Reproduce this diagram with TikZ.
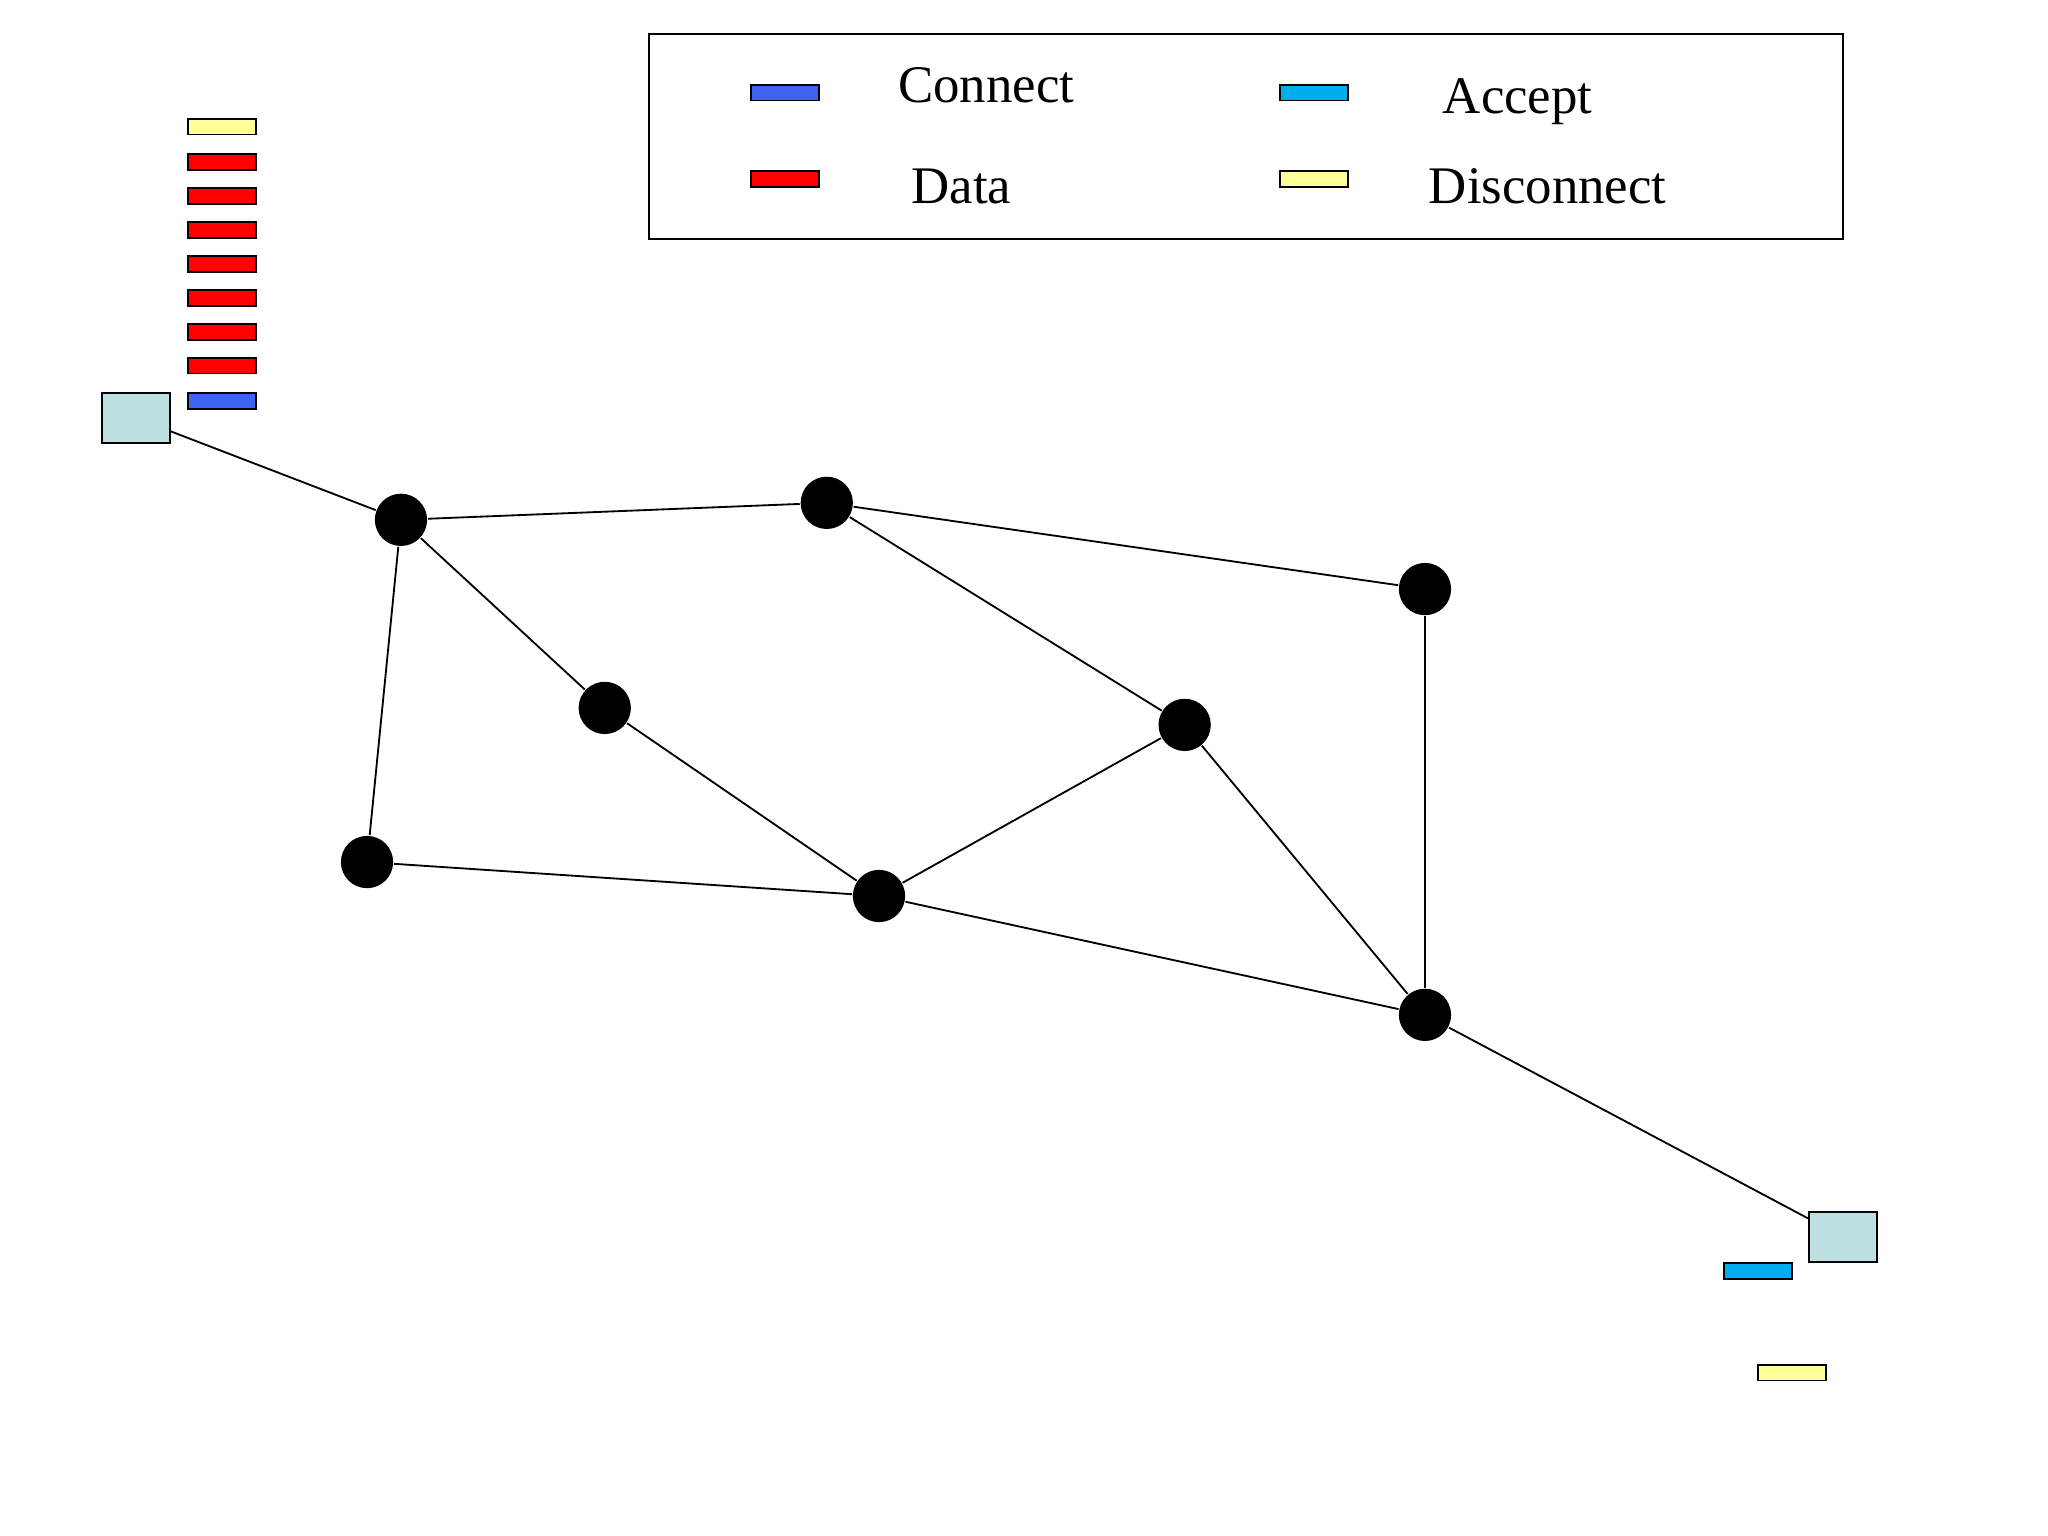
\documentclass[tikz,border=0pt]{standalone}
\usepackage{fontspec}
\setmainfont{Liberation Serif}
\begin{document}
\begin{tikzpicture}[x=0.01cm,y=-0.01cm,
  dot/.style={circle,fill=black,inner sep=0pt,minimum size=0.4cm},
  host/.style={draw=black,fill=hostc,inner sep=0pt,minimum width=0.52cm,minimum height=0.38cm},
  pkt/.style={draw=black,inner sep=0pt,minimum width=0.52cm,minimum height=0.12cm},
  lbl/.style={font=\fontsize{11.5}{13}\selectfont},
  edge/.style={draw=black,line width=0.4pt}]
\definecolor{hostc}{HTML}{BDE0E0}
\definecolor{pblue}{HTML}{3D63F0}
\definecolor{pyel}{HTML}{FFFF99}
\useasboundingbox (0,0) rectangle (1568,1176);
\node[dot] (A) at (307,398) {};
\node[dot] (B) at (633,385) {};
\node[dot] (C) at (1091,451) {};
\node[dot] (D) at (463,542) {};
\node[dot] (E) at (907,555) {};
\node[dot] (F) at (281,660) {};
\node[dot] (G) at (673,686) {};
\node[dot] (H) at (1091,777) {};
\node[host] (S1) at (104,320) {};
\node[host] (S2) at (1411,947) {};
\draw[edge] (S1) -- (A);
\draw[edge] (A) -- (B);
\draw[edge] (B) -- (C);
\draw[edge] (A) -- (D);
\draw[edge] (A) -- (F);
\draw[edge] (D) -- (G);
\draw[edge] (B) -- (E);
\draw[edge] (E) -- (G);
\draw[edge] (E) -- (H);
\draw[edge] (F) -- (G);
\draw[edge] (G) -- (H);
\draw[edge] (C) -- (H);
\draw[edge] (H) -- (S2);
\node[pkt,fill=pyel] (p0) at (170,97) {};
\foreach \y [count=\i] in {124,150,176,202,228,254,280} {\node[pkt,fill=red] (p\i) at (170,\y) {};}
\node[pkt,fill=pblue] (p8) at (170,307) {};
\node[pkt,fill=cyan] (q1) at (1346,973) {};
\node[pkt,fill=pyel] (q2) at (1372,1051) {};
\node[draw=black,inner sep=0pt,minimum width=9.14cm,minimum height=1.57cm] (leg) at (954,104.5) {};
\node[pkt,fill=pblue] (l1) at (601,71) {};
\node[pkt,fill=red] (l2) at (601,137) {};
\node[pkt,fill=cyan] (l3) at (1006,71) {};
\node[pkt,fill=pyel] (l4) at (1006,137) {};
\node[lbl] (t1) at (755,65) {Connect};
\node[lbl] (t2) at (736,143) {Data};
\node[lbl] (t3) at (1162,78) {Accept};
\node[lbl] (t4) at (1185,143) {Disconnect};
\end{tikzpicture}
\end{document}
